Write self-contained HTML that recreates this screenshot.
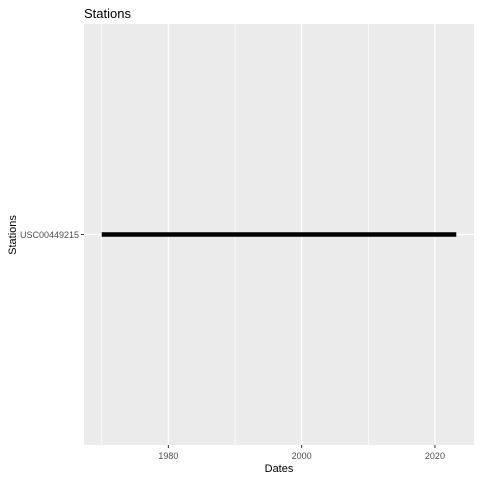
<!DOCTYPE html>
<html><head><meta charset="utf-8"><style>
body{margin:0;background:#fff;}
svg text{font-family:"Liberation Sans",Arial,sans-serif;}
</style></head><body>
<svg id="chart" width="480" height="480" viewBox="0 0 480 480">
<rect x="0" y="0" width="480" height="480" fill="#fff"/>
<rect id="panel" x="84" y="24" width="390" height="421" fill="#ebebeb"/>
<g id="grid"></g>
<g id="marks"></g>
<g id="axes"></g>
<text x="84" y="18" font-size="13" fill="#000">Stations</text>
<text x="279" y="472" font-size="11" text-anchor="middle" fill="#000">Dates</text>
<text transform="translate(16,235) rotate(-90)" font-size="11" text-anchor="middle" fill="#000">Stations</text>
</svg>
<script>
const stations = ["USC00449215"];
const startYears = [1970.0];
const endYears = [2023.2];
const xTicks = [1980, 2000, 2020];
const xMinor = [1970, 1990, 2010];

const NS = "http://www.w3.org/2000/svg";
const L = 84, R = 474, T = 24, B = 445;
const dmin = 1967.34, dmax = 2025.86;
const x = v => L + (v - dmin) / (dmax - dmin) * (R - L);
const y = i => T + (i + 1) * (B - T) / (stations.length + 1);
function mk(tag, attrs, parent) {
  const e = document.createElementNS(NS, tag);
  for (const k in attrs) e.setAttribute(k, attrs[k]);
  document.getElementById(parent).appendChild(e);
  return e;
}
xMinor.forEach(v => {
  const l = mk('line', {x1: x(v), x2: x(v), y1: T, y2: B, stroke: '#fff', 'stroke-width': 0.6}, 'grid');
  
  
});
xTicks.forEach(v => {
  const l = mk('line', {x1: x(v), x2: x(v), y1: T, y2: B, stroke: '#fff', 'stroke-width': 1.2}, 'grid');
  
  
  const t = mk('line', {x1: x(v), x2: x(v), y1: B, y2: B + 3, stroke: '#333', 'stroke-width': 1}, 'axes');
  
  
  const tx = mk('text', {x: x(v), y: B + 14, 'font-size': 9, 'text-anchor': 'middle', fill: '#4d4d4d'}, 'axes');
  tx.textContent = v;
  
  
});
stations.forEach((s, i) => {
  const g = mk('line', {x1: L, x2: R, y1: y(i), y2: y(i), stroke: '#fff', 'stroke-width': 1.2}, 'grid');
  
  
  const t = mk('line', {x1: L - 3, x2: L, y1: y(i), y2: y(i), stroke: '#333', 'stroke-width': 1}, 'axes');
  
  
  const tx = mk('text', {x: L - 5, y: y(i) + 3.5, 'font-size': 9, 'text-anchor': 'end', fill: '#4d4d4d'}, 'axes');
  tx.textContent = s;
  
  
  const m = mk('line', {x1: x(startYears[i]), x2: x(endYears[i]), y1: y(i), y2: y(i), stroke: '#000', 'stroke-width': 4.5, 'stroke-linecap': 'butt'}, 'marks');
  
  
});
</script>
</body></html>
